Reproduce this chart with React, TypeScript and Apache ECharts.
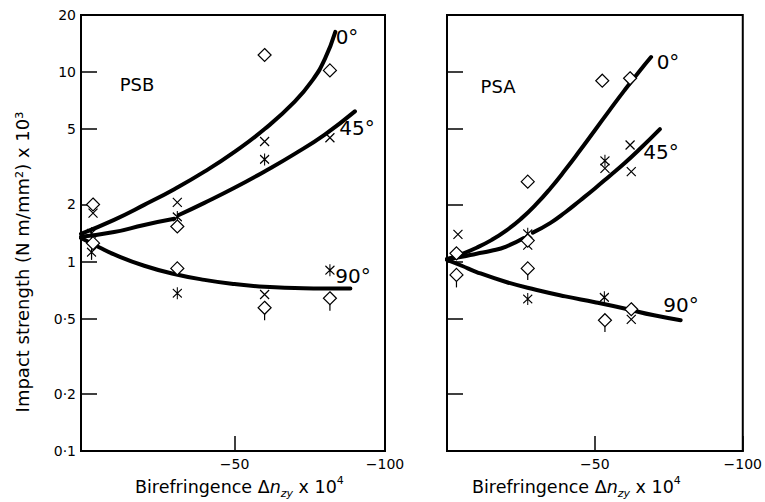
import React, { useEffect, useRef } from 'react';
import * as echarts from 'echarts';

const FONT = '"DejaVu Sans", sans-serif';

// axis ticks
const yTicks = [0.1, 0.2, 0.5, 1, 2, 5, 10, 20];
const yTickLabels = ['0·1', '0·2', '0·5', '1', '2', '5', '10', '20'];
const xTicks = [-50, -100];
const xTickLabels = ['−50', '−100'];

// ---------- PSB (left panel) ----------
const psbDiamonds = [[-3, 2.0], [-3, 1.25], [-31, 1.53], [-31, 0.92], [-60, 12.3], [-60, 0.57], [-81.7, 10.2], [-81.7, 0.64]];
const psbCrosses = [[-3, 1.8], [-31, 2.05], [-60, 4.3], [-81.7, 4.5], [-60, 0.67]];
const psbAsterisks = [[-2.5, 1.41], [-2.5, 1.12], [-31, 1.72], [-31, 0.68], [-60, 3.46], [-81.7, 0.9]];
const psbErrorBars = [[-2.5, 1.12, 1.02], [-60, 0.57, 0.49], [-81.7, 0.64, 0.55]];

const psb0X = [1, -10, -20, -30, -40, -50, -60, -70, -76, -80, -83.5];
const psb0Y = [1.4, 1.66, 1.99, 2.41, 2.98, 3.79, 5.0, 6.98, 9.1, 11.7, 16.3];
const psb45aX = [1, -10, -20, -30];
const psb45aY = [1.35, 1.43, 1.56, 1.68];
const psb45bX = [-31.5, -40, -50, -60, -70, -80, -90];
const psb45bY = [1.76, 2.04, 2.45, 2.99, 3.7, 4.68, 6.2];
const psb90X = [1, -5, -10, -20, -30, -40, -50, -60, -70, -80, -88.5];
const psb90Y = [1.33, 1.19, 1.09, 0.95, 0.86, 0.8, 0.76, 0.735, 0.725, 0.72, 0.72];

// ---------- PSA (right panel) ----------
const psaDiamonds = [[-3.2, 1.105], [-3.2, 0.85], [-27.3, 1.29], [-27.3, 0.92], [-27.3, 2.64], [-52.5, 9.0], [-61.9, 9.27], [-53.4, 0.49], [-62.3, 0.56]];
const psaCrosses = [[-3.7, 1.39], [-27.3, 1.22], [-53.4, 3.1], [-61.9, 4.12], [-62.3, 2.98], [-62.3, 0.495]];
const psaAsterisks = [[-27.3, 1.4], [-27.3, 0.634], [-53.4, 3.4], [-53.2, 0.647]];
const psaErrorBars = [[-3.2, 0.85, 0.73], [-27.3, 0.92, 0.8], [-53.4, 0.49, 0.425]];

const psa0X = [0, -5, -10, -15, -20, -25, -30, -35, -40, -45, -50, -55, -60, -65, -69];
const psa0Y = [1.03, 1.096, 1.183, 1.297, 1.455, 1.679, 1.995, 2.438, 3.048, 3.864, 4.932, 6.295, 8.0, 10.07, 12.0];
const psa45aX = [0, -5, -10, -15, -20, -26];
const psa45aY = [1.03, 1.06, 1.1, 1.14, 1.2, 1.33];
const psa45bX = [-29, -35, -40, -45, -50, -55, -60, -65, -72];
const psa45bY = [1.42, 1.6, 1.82, 2.1, 2.43, 2.83, 3.3, 3.9, 5.0];
const psa90X = [0, -5, -10, -20, -30, -40, -50, -60, -70, -79];
const psa90Y = [1.02, 0.95, 0.88, 0.78, 0.71, 0.655, 0.61, 0.565, 0.52, 0.49];

const lg = (v: number) => Math.log10(v);
const CROSS = 'path://M0,0L10,10M10,0L0,10';
const ASTER = 'path://M0,2L10,12M10,2L0,12M5,0L5,14';

function curve(xs: number[], ys: number[], g: number) {
  return {
    type: 'line', xAxisIndex: g, yAxisIndex: g, silent: true,
    data: xs.map((x, i) => [x, lg(ys[i])]),
    smooth: 0.5, showSymbol: false, symbol: 'none',
    lineStyle: { color: '#000', width: 4, cap: 'round' }, z: 3,
  };
}
function markers(pts: number[][], g: number, symbol: string, size: any, fill: string, z: number) {
  return {
    type: 'scatter', xAxisIndex: g, yAxisIndex: g, silent: true,
    data: pts.map((p) => [p[0], lg(p[1])]),
    symbol, symbolSize: size,
    itemStyle: { color: fill, borderColor: '#000', borderWidth: 1.2, opacity: 1 }, z,
  };
}
function errorBars(bars: number[][], g: number) {
  return {
    type: 'custom', xAxisIndex: g, yAxisIndex: g, silent: true, z: 2,
    data: bars.map((b) => [b[0], lg(b[1]), lg(b[2])]),
    encode: { x: 0, y: [1, 2] },
    renderItem: (params: any, api: any) => {
      const p1 = api.coord([api.value(0), api.value(1)]);
      const p2 = api.coord([api.value(0), api.value(2)]);
      return { type: 'line', shape: { x1: p1[0], y1: p1[1], x2: p2[0], y2: p2[1] }, style: { stroke: '#000', lineWidth: 1.2 } };
    },
  };
}

function xAxis(g: number, max: number) {
  return {
    type: 'value', gridIndex: g, min: -100, max, inverse: true,
    axisLine: { show: true, onZero: false, lineStyle: { color: '#000', width: 2 } },
    axisTick: { show: true, inside: true, length: 15, customValues: xTicks, lineStyle: { color: '#000', width: 1.5 } },
    axisLabel: {
      customValues: xTicks, color: '#000', fontSize: 14, fontFamily: FONT, margin: 6,
      formatter: (v: number) => { const i = xTicks.findIndex((t) => Math.abs(t - v) < 1e-6); return i >= 0 ? xTickLabels[i] : ''; },
    },
    splitLine: { show: false },
  };
}
function yAxis(g: number, labels: boolean) {
  const vals = yTicks.map(lg);
  return {
    type: 'value', gridIndex: g, min: lg(0.1), max: lg(20),
    axisLine: { show: true, onZero: false, lineStyle: { color: '#000', width: 2 } },
    axisTick: { show: true, inside: true, length: 16, customValues: vals, lineStyle: { color: '#000', width: 1.5 } },
    axisLabel: {
      show: labels, customValues: vals, color: '#000', fontSize: 14, fontFamily: FONT, margin: 5,
      formatter: (v: number) => { const i = vals.findIndex((t) => Math.abs(t - v) < 1e-6); return i >= 0 ? yTickLabels[i] : ''; },
    },
    splitLine: { show: false },
  };
}

const txt = (text: string, x: number, y: number, size: number) => ({
  type: 'text', x, y, silent: true,
  style: { text, fontSize: size, fontFamily: FONT, fill: '#000', textAlign: 'center', textVerticalAlign: 'middle' },
});
const xTitle = (x: number) => ({
  type: 'text', x, y: 475, silent: true,
  style: {
    text: '{a|Birefringence Δ}{i|n}{s|zy}{a| x 10}{p|4}',
    fontFamily: FONT, fill: '#000', textAlign: 'left', textVerticalAlign: 'top',
    rich: {
      a: { fontSize: 17.5, fontFamily: FONT, lineHeight: 24 },
      i: { fontSize: 17.5, fontFamily: FONT, fontStyle: 'italic', lineHeight: 24 },
      s: { fontSize: 11, fontFamily: FONT, fontStyle: 'italic', verticalAlign: 'bottom' },
      p: { fontSize: 11, fontFamily: FONT, verticalAlign: 'top' },
    },
  },
});

const option: any = {
  animation: false,
  backgroundColor: '#fff',
  grid: [
    { left: 81, top: 15, width: 304, height: 436, show: true, borderColor: '#000', borderWidth: 2, backgroundColor: 'transparent' },
    { left: 447, top: 15, width: 302, height: 436, show: true, borderColor: '#000', borderWidth: 2, backgroundColor: 'transparent' },
  ],
  xAxis: [xAxis(0, 1), xAxis(1, 0)],
  yAxis: [yAxis(0, true), yAxis(1, false)],
  series: [
    curve(psb0X, psb0Y, 0), curve(psb45aX, psb45aY, 0), curve(psb45bX, psb45bY, 0), curve(psb90X, psb90Y, 0),
    errorBars(psbErrorBars, 0),
    markers(psbCrosses, 0, CROSS, 9, 'rgba(0,0,0,0)', 4),
    markers(psbAsterisks, 0, ASTER, [9, 12], 'rgba(0,0,0,0)', 4),
    markers(psbDiamonds, 0, 'diamond', 13, '#fff', 5),
    curve(psa0X, psa0Y, 1), curve(psa45aX, psa45aY, 1), curve(psa45bX, psa45bY, 1), curve(psa90X, psa90Y, 1),
    errorBars(psaErrorBars, 1),
    markers(psaCrosses, 1, CROSS, 9, 'rgba(0,0,0,0)', 4),
    markers(psaAsterisks, 1, ASTER, [9, 12], 'rgba(0,0,0,0)', 4),
    markers(psaDiamonds, 1, 'diamond', 13, '#fff', 5),
  ],
  graphic: [
    txt('PSB', 137, 84, 18), txt('0°', 347, 37, 20), txt('45°', 357, 128, 20), txt('90°', 353, 276, 20),
    txt('PSA', 498, 86, 18), txt('0°', 668, 62, 20), txt('45°', 661, 152, 20), txt('90°', 681, 305, 20),
    xTitle(135), xTitle(472),
    {
      type: 'text', x: 22, y: 262, rotation: Math.PI / 2, silent: true,
      style: { text: 'Impact strength (N m/mm²) x 10³', fontSize: 18, fontFamily: FONT, fill: '#000', textAlign: 'center', textVerticalAlign: 'middle' },
    },
  ],
};

export default function App() {
  const ref = useRef<HTMLDivElement>(null);
  useEffect(() => {
    document.body.style.margin = '0';
    const chart = echarts.init(ref.current!, null, { renderer: 'svg' });
    chart.setOption(option);
    return () => chart.dispose();
  }, []);
  return <div ref={ref} style={{ width: 765, height: 502, position: 'absolute', left: 0, top: 0 }} />;
}
